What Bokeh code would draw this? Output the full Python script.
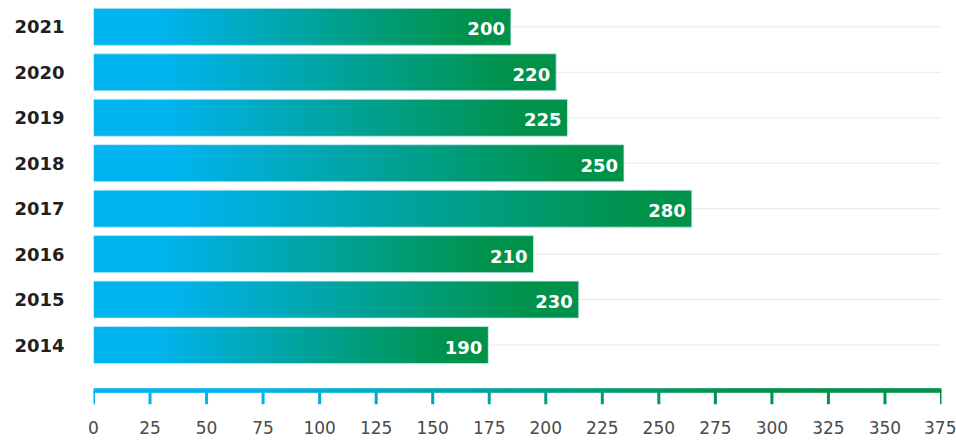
import numpy as np
from bokeh.plotting import figure
from bokeh.models import Range1d, FixedTicker
from bokeh.core.properties import value
from bokeh.embed import file_html
from bokeh.resources import INLINE

# ---- data ----
YEARS = ["2014", "2015", "2016", "2017", "2018", "2019", "2020", "2021"]
VALUES = [190, 230, 210, 280, 250, 225, 220, 200]
X_TICKS = [0, 25, 50, 75, 100, 125, 150, 175, 200, 225, 250, 275, 300, 325, 350, 375]

# ---- style ----
BLUE = (0, 180, 240)
GREEN = (0, 146, 74)
BAR_START = 15.4        # visible start of the bars on the bar scale
BAR_H = 0.815
AXIS_Y = -1.0
AXIS_H = 0.088
TICK_LEN = 0.3
N_SLICES = 110


def ramp(t, t0, t1):
    f = min(max((t - t0) / (t1 - t0), 0.0), 1.0)
    return "#%02x%02x%02x" % tuple(int(round(a + (b - a) * f)) for a, b in zip(BLUE, GREEN))


idx = list(range(len(YEARS)))

p = figure(width=956, height=442, output_backend="svg", toolbar_location=None,
           x_range=Range1d(0, 375), y_range=Range1d(-1.352, 7.580),
           min_border_left=93, min_border_right=15, min_border_top=0, min_border_bottom=36)
p.extra_x_ranges = {"bars": Range1d(BAR_START, BAR_START + 375)}
p.xgrid.visible = False
p.ygrid.visible = False
p.outline_line_color = None
p.background_fill_color = "white"
p.border_fill_color = "white"

# horizontal grid lines at bar centres
p.segment(x0=[0] * len(idx), x1=[375] * len(idx), y0=idx, y1=idx,
          line_color="#e7e9ec", line_width=1)

# gradient bars
for i, v in zip(idx, VALUES):
    edges = np.linspace(BAR_START, v, N_SLICES + 1)
    step = edges[1] - edges[0]
    lefts = edges[:-1]
    rights = edges[1:].copy()
    rights[:-1] += step * 0.6
    mids = (edges[:-1] + edges[1:]) / 2
    cols = [ramp((m - BAR_START) / (v - BAR_START), 0.15, 0.9) for m in mids]
    p.hbar(y=[i] * N_SLICES, left=lefts, right=rights, height=BAR_H,
           fill_color=cols, line_color=None, x_range_name="bars")

# light outline of bars
p.hbar(y=idx, left=[BAR_START] * len(idx), right=VALUES, height=BAR_H,
       fill_color=None, line_color="#cfeef3", line_width=1, line_alpha=0.8,
       x_range_name="bars")

# value labels
p.text(x=VALUES, y=idx, text=[str(v) for v in VALUES], x_offset=-6, y_offset=2,
       text_align="right", text_baseline="middle", text_color="white",
       text_font=value("DejaVu Sans"), text_font_style="bold", text_font_size="18px",
       x_range_name="bars")

# gradient axis line (underlay + abutting slices)
AX_N = 160
aedges = np.linspace(0, 375, AX_N + 1)
amids = (aedges[:-1] + aedges[1:]) / 2
acols = [ramp(m / 375, 0.18, 0.75) for m in amids]
p.hbar(y=[AXIS_Y] * AX_N, left=aedges[:-1], right=aedges[1:], height=AXIS_H,
       fill_color=acols, line_color=acols, line_width=0.6)

# ticks
p.segment(x0=X_TICKS, x1=X_TICKS, y0=[AXIS_Y] * len(X_TICKS),
          y1=[AXIS_Y - TICK_LEN] * len(X_TICKS),
          line_color=[ramp(t / 375, 0.18, 0.75) for t in X_TICKS], line_width=3)

# x axis labels
xa = p.xaxis[0]
xa.ticker = FixedTicker(ticks=X_TICKS)
xa.axis_line_color = None
xa.major_tick_line_color = None
xa.minor_tick_line_color = None
xa.major_tick_out = 0
xa.major_tick_in = 0
xa.major_label_standoff = 14
xa.major_label_text_font = "DejaVu Sans"
xa.major_label_text_font_size = "17px"
xa.major_label_text_color = "#4a4a4a"

# y axis labels (years)
ya = p.yaxis[0]
ya.ticker = FixedTicker(ticks=idx)
ya.major_label_overrides = {i: y for i, y in zip(idx, YEARS)}
ya.axis_line_color = None
ya.major_tick_line_color = None
ya.minor_tick_line_color = None
ya.major_tick_out = 0
ya.major_tick_in = 0
ya.major_label_standoff = 29
ya.major_label_text_font = "DejaVu Sans"
ya.major_label_text_font_style = "bold"
ya.major_label_text_font_size = "18px"
ya.major_label_text_color = "#231f20"

open("out.html", "w").write(file_html(p, INLINE))
